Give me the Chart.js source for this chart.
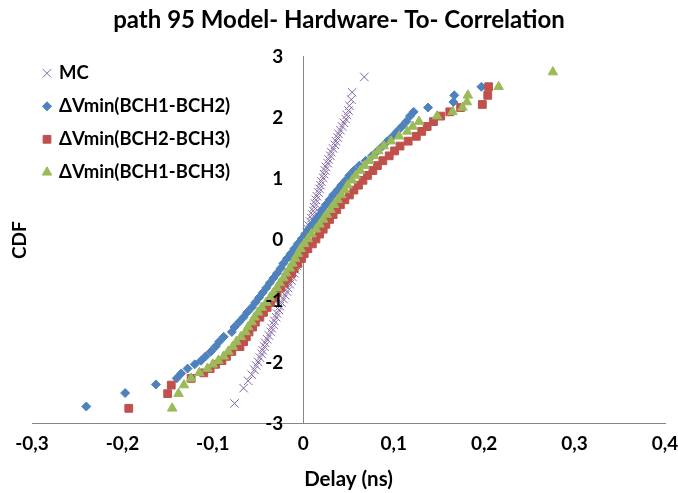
<!DOCTYPE html>
<html>
<head>
<meta charset="utf-8">
<script src="https://cdn.jsdelivr.net/npm/chart.js@4.4.1/dist/chart.umd.min.js"></script>
<style>
  html, body { margin: 0; padding: 0; background: #fff; }
</style>
</head>
<body>
<canvas id="grafico" width="678" height="493"></canvas>
<script>
const titulo = 'path 95 Model- Hardware- To- Correlation';
const series = ['MC', 'ΔVmin(BCH1-BCH2)', 'ΔVmin(BCH2-BCH3)', 'ΔVmin(BCH1-BCH3)'];
const xTicks = [-0.3, -0.2, -0.1, 0, 0.1, 0.2, 0.3, 0.4];
const yTicks = [-3, -2, -1, 0, 1, 2, 3];

// MC
const mcCdf = [-2.67, -2.42, -2.30, -2.20, -2.12, -2.05, -1.99,
  -1.92, -1.86, -1.80, -1.74, -1.68, -1.62, -1.56, -1.50, -1.44, -1.38,
  -1.32, -1.26, -1.20, -1.14, -1.08, -1.02, -0.96, -0.90, -0.84, -0.78,
  -0.72, -0.66, -0.60, -0.54, -0.48, -0.42, -0.36, -0.30, -0.24, -0.18,
  -0.12, -0.06, 0, 0.06, 0.12, 0.18, 0.24, 0.30, 0.36, 0.42,
  0.48, 0.54, 0.60, 0.66, 0.72, 0.78, 0.84, 0.90, 0.96, 1.02,
  1.08, 1.14, 1.20, 1.26, 1.32, 1.38, 1.44, 1.50, 1.56, 1.62,
  1.68, 1.74, 1.80, 1.86, 1.92, 1.98,
  2.05, 2.12, 2.20, 2.30, 2.42, 2.67];
const mcDelay = [-0.076, -0.066, -0.061, -0.057, -0.054, -0.052, -0.050,
  -0.048, -0.046, -0.045, -0.043, -0.042, -0.040, -0.038, -0.036, -0.035, -0.033,
  -0.032, -0.030, -0.029, -0.027, -0.026, -0.024, -0.022, -0.020, -0.018, -0.017,
  -0.015, -0.013, -0.012, -0.010, -0.009, -0.007, -0.006, -0.005, -0.003, -0.002,
  0.000, 0.001, 0.002, 0.003, 0.004, 0.005, 0.006, 0.008, 0.009, 0.010,
  0.011, 0.012, 0.013, 0.014, 0.015, 0.017, 0.018, 0.019, 0.020, 0.022,
  0.023, 0.024, 0.025, 0.027, 0.028, 0.030, 0.031, 0.033, 0.035, 0.036,
  0.038, 0.039, 0.041, 0.043, 0.045, 0.047,
  0.048, 0.050, 0.051, 0.053, 0.054, 0.0675];

// ΔVmin(BCH1-BCH2)
const bch12Cdf = [-2.72, -2.50, -2.36, -2.26, -2.18, -2.10, -2.03, -1.97,
  -1.90, -1.82, -1.74, -1.66, -1.58, -1.50, -1.42, -1.34, -1.26, -1.18,
  -1.10, -1.02, -0.94, -0.86, -0.78, -0.70, -0.62, -0.54, -0.46, -0.38,
  -0.30, -0.22, -0.14, -0.06, 0.02, 0.10, 0.18, 0.26, 0.34, 0.42,
  0.50, 0.58, 0.66, 0.74, 0.82, 0.90, 0.98, 1.06, 1.14, 1.22,
  1.30, 1.38, 1.46, 1.54, 1.62, 1.70, 1.78, 1.86, 1.94,
  2.03, 2.10, 2.17, 2.26, 2.37, 2.51];
const bch12Delay = [-0.240, -0.197, -0.163, -0.140, -0.135, -0.128, -0.120, -0.113,
  -0.108, -0.102, -0.097, -0.093, -0.088, -0.079, -0.076, -0.071, -0.066, -0.062,
  -0.057, -0.053, -0.049, -0.045, -0.041, -0.037, -0.033, -0.029, -0.025, -0.022,
  -0.018, -0.014, -0.010, -0.006, -0.002, 0.002, 0.006, 0.010, 0.014, 0.018,
  0.021, 0.025, 0.029, 0.033, 0.038, 0.042, 0.047, 0.051, 0.056, 0.062,
  0.069, 0.076, 0.082, 0.088, 0.093, 0.099, 0.104, 0.109, 0.114,
  0.118, 0.122, 0.138, 0.166, 0.167, 0.197];

// ΔVmin(BCH2-BCH3)
const bch23Cdf = [-2.75, -2.51, -2.37, -2.26, -2.17, -2.10, -2.03, -1.97,
  -1.90, -1.82, -1.74, -1.66, -1.58, -1.50, -1.42, -1.34, -1.26, -1.18,
  -1.10, -1.02, -0.94, -0.86, -0.78, -0.70, -0.62, -0.54, -0.46, -0.38,
  -0.30, -0.22, -0.14, -0.06, 0.02, 0.10, 0.18, 0.26, 0.34, 0.42,
  0.50, 0.58, 0.66, 0.74, 0.82, 0.90, 0.98, 1.06, 1.14, 1.22,
  1.30, 1.38, 1.46, 1.54, 1.62, 1.70, 1.78, 1.86, 1.94,
  2.03, 2.10, 2.17, 2.22, 2.37, 2.51];
const bch23Delay = [-0.193, -0.150, -0.146, -0.124, -0.110, -0.103, -0.097, -0.090,
  -0.085, -0.079, -0.070, -0.066, -0.063, -0.060, -0.056, -0.053, -0.048, -0.044,
  -0.040, -0.036, -0.032, -0.029, -0.025, -0.021, -0.017, -0.013, -0.010, -0.006,
  -0.002, 0.001, 0.005, 0.010, 0.014, 0.018, 0.022, 0.025, 0.029, 0.033,
  0.037, 0.041, 0.046, 0.051, 0.056, 0.061, 0.066, 0.071, 0.077, 0.082,
  0.088, 0.095, 0.101, 0.107, 0.116, 0.125, 0.131, 0.137, 0.144,
  0.152, 0.162, 0.174, 0.198, 0.204, 0.205];

// ΔVmin(BCH1-BCH3)
const bch13Cdf = [-2.75, -2.51, -2.37, -2.26, -2.17, -2.10, -2.03, -1.97,
  -1.90, -1.82, -1.74, -1.66, -1.58, -1.50, -1.42, -1.34, -1.26, -1.18,
  -1.10, -1.02, -0.94, -0.86, -0.78, -0.70, -0.62, -0.54, -0.46, -0.38,
  -0.30, -0.22, -0.14, -0.06, 0.02, 0.10, 0.18, 0.26, 0.34, 0.42,
  0.50, 0.58, 0.66, 0.74, 0.82, 0.90, 0.98, 1.06, 1.14, 1.22,
  1.30, 1.38, 1.46, 1.54, 1.62, 1.70, 1.78, 1.86, 1.94,
  2.03, 2.10, 2.17, 2.26, 2.37, 2.51, 2.75];
const bch13Delay = [-0.145, -0.138, -0.132, -0.124, -0.115, -0.106, -0.100, -0.094,
  -0.088, -0.083, -0.078, -0.074, -0.069, -0.064, -0.061, -0.057, -0.054, -0.050,
  -0.046, -0.041, -0.037, -0.033, -0.029, -0.026, -0.022, -0.019, -0.015, -0.012,
  -0.009, -0.006, -0.003, 0.001, 0.005, 0.009, 0.014, 0.018, 0.022, 0.026,
  0.030, 0.034, 0.038, 0.042, 0.046, 0.049, 0.054, 0.058, 0.063, 0.068,
  0.073, 0.078, 0.083, 0.089, 0.097, 0.106, 0.115, 0.121, 0.128,
  0.148, 0.165, 0.176, 0.181, 0.182, 0.216, 0.276];

const puntos = (xs, ys) => xs.map((x, i) => ({ x: x, y: ys[i] }));
const fmtX = v => Math.abs(v) < 1e-9 ? '0' : v.toFixed(1).replace('.', ',');
const fuente = 'Lato, "Open Sans", sans-serif';

Chart.defaults.font.family = fuente;
Chart.defaults.font.weight = 'bold';
Chart.defaults.color = '#000';

// legend drawn over the plot, top-left, like the original
const leyenda = {
  id: 'leyenda',
  afterDraw(chart) {
    const ctx = chart.ctx;
    const area = chart.chartArea;
    ctx.save();
    ctx.font = 'bold 18.5px ' + fuente;
    ctx.textBaseline = 'middle';
    chart.data.datasets.forEach((ds, i) => {
      const y = area.top + 16.5 + i * 33;
      ctx.fillStyle = ds.backgroundColor;
      ctx.strokeStyle = ds.borderColor;
      ctx.lineWidth = ds.pointBorderWidth;
      Chart.helpers.drawPoint(ctx, {
        pointStyle: ds.pointStyle, radius: ds.pointRadius,
        borderWidth: ds.pointBorderWidth, rotation: 0
      }, area.left + 15, y);
      ctx.fillStyle = '#000';
      ctx.fillText(ds.label, area.left + 27, y);
    });
    ctx.restore();
  }
};

new Chart(document.getElementById('grafico'), {
  type: 'scatter',
  data: {
    datasets: [
      { label: series[0], data: puntos(mcDelay, mcCdf), order: 4, yAxisID: 'y',
        pointStyle: 'crossRot', pointRadius: 6, pointBorderWidth: 1,
        borderColor: '#8064A2', backgroundColor: '#8064A2' },
      { label: series[1], data: puntos(bch12Delay, bch12Cdf), order: 3, yAxisID: 'y',
        pointStyle: 'rectRot', pointRadius: 4.5, pointBorderWidth: 1,
        borderColor: '#4F81BD', backgroundColor: '#4F81BD' },
      { label: series[2], data: puntos(bch23Delay, bch23Cdf), order: 2, yAxisID: 'y',
        pointStyle: 'rect', pointRadius: 5.5, pointBorderWidth: 1,
        borderColor: '#C0504D', backgroundColor: '#C0504D' },
      { label: series[3], data: puntos(bch13Delay, bch13Cdf), order: 1, yAxisID: 'y',
        pointStyle: 'triangle', pointRadius: 5.5, pointBorderWidth: 1,
        borderColor: '#9BBB59', backgroundColor: '#9BBB59' }
    ]
  },
  options: {
    responsive: false,
    animation: false,
    layout: { padding: { left: 0, right: 0, top: 0, bottom: 1 } },
    plugins: {
      title: { display: true, text: titulo, font: { size: 24 }, padding: { top: 6, bottom: 22 } },
      legend: { display: false },
      tooltip: { enabled: false }
    },
    scales: {
      x: {
        type: 'linear', min: xTicks[0], max: xTicks[xTicks.length - 1],
        afterBuildTicks: s => { s.ticks = xTicks.map(v => ({ value: v })); },
        afterFit: s => { s.paddingLeft = 30; s.paddingRight = 13; },
        ticks: { font: { size: 19 }, padding: 1, callback: fmtX },
        grid: { display: false }, border: { color: '#868686' },
        title: { display: true, text: 'Delay (ns)', font: { size: 20.5 }, padding: { top: 11, bottom: 0 } }
      },
      y: {
        type: 'linear', min: yTicks[0], max: yTicks[yTicks.length - 1], position: { x: 0 },
        ticks: { display: false },
        grid: { display: false }, border: { color: '#868686' }
      },
      yLab: {
        type: 'linear', axis: 'y', min: yTicks[0], max: yTicks[yTicks.length - 1], position: { x: -0.022 },
        afterBuildTicks: s => { s.ticks = yTicks.map(v => ({ value: v })); },
        ticks: { font: { size: 19 }, z: 1 },
        grid: { display: false }, border: { display: false }
      },
      yTitulo: {
        type: 'linear', axis: 'y', position: 'left',
        afterFit: s => { s.width = 32; },
        ticks: { display: false }, grid: { display: false }, border: { display: false },
        title: { display: true, text: 'CDF', font: { size: 19 }, padding: { top: 8, bottom: 0 } }
      }
    }
  },
  plugins: [leyenda]
});
</script>
</body>
</html>
